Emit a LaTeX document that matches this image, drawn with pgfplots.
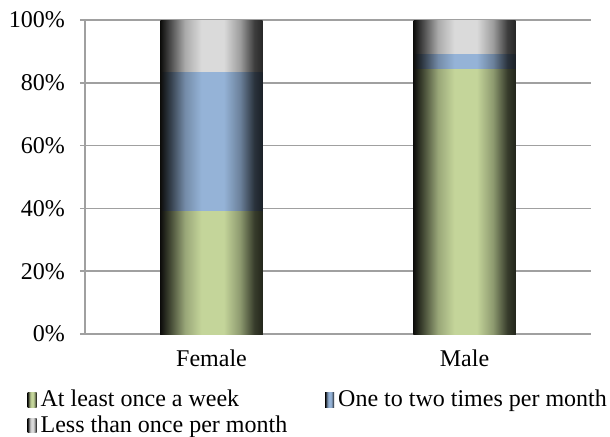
\documentclass[border=0pt]{standalone}
\usepackage{pgfplots}
\pgfplotsset{compat=1.18}
\usepackage{fontspec}
\setmainfont{Liberation Serif}

% bar colours
\definecolor{gMid}{RGB}{196,213,154}
\definecolor{bMid}{RGB}{149,179,215}
\definecolor{kMid}{RGB}{218,218,218}
\definecolor{edge}{RGB}{14,14,12}
\definecolor{axisgray}{RGB}{160,160,160}

\colorlet{g1}{gMid!30!black}\colorlet{g2}{gMid!78!black}\colorlet{g3}{gMid!72!black}\colorlet{g4}{gMid!28!black}\colorlet{g5}{gMid!18!black}
\colorlet{b1}{bMid!30!black}\colorlet{b2}{bMid!78!black}\colorlet{b3}{bMid!72!black}\colorlet{b4}{bMid!28!black}\colorlet{b5}{bMid!18!black}
\colorlet{k1}{kMid!30!black}\colorlet{k2}{kMid!78!black}\colorlet{k3}{kMid!72!black}\colorlet{k4}{kMid!28!black}\colorlet{k5}{kMid!18!black}

\pgfdeclarehorizontalshading{greenbar}{100bp}{color(0bp)=(edge); color(25bp)=(edge); color(29bp)=(g1); color(37bp)=(g2); color(45bp)=(gMid); color(56bp)=(gMid); color(64bp)=(g3); color(71bp)=(g4); color(75bp)=(g5); color(100bp)=(g5)}
\pgfdeclarehorizontalshading{bluebar}{100bp}{color(0bp)=(edge); color(25bp)=(edge); color(29bp)=(b1); color(37bp)=(b2); color(45bp)=(bMid); color(56bp)=(bMid); color(64bp)=(b3); color(71bp)=(b4); color(75bp)=(b5); color(100bp)=(b5)}
\pgfdeclarehorizontalshading{graybar}{100bp}{color(0bp)=(edge); color(25bp)=(edge); color(29bp)=(k1); color(37bp)=(k2); color(45bp)=(kMid); color(56bp)=(kMid); color(64bp)=(k3); color(71bp)=(k4); color(75bp)=(k5); color(100bp)=(k5)}

% cumulative shares (%): each bar drawn from 0, top segment first
% Female: weekly 39.0, monthly 44.2, less 16.8
% Male:   weekly 84.2, monthly 4.9,  less 10.9

\begin{document}
\begin{tikzpicture}
\begin{axis}[
    scale only axis,
    width=253pt, height=157pt,
    ybar, bar shift=0pt,
    bar width=51pt,
    xmin=0.5, xmax=2.5,
    ymin=0, ymax=100,
    xtick={1,2},
    xticklabels={Female,Male},
    major x tick style={draw=none},
    extra x ticks={0.5,1.5,2.5},
    extra x tick labels={},
    extra x tick style={grid=none},
    ytick={0,20,40,60,80,100},
    yticklabels={0\%,20\%,40\%,60\%,80\%,100\%},
    ymajorgrids=true,
    grid style={axisgray, line width=0.8pt},
    axis x line*=bottom,
    axis y line*=left,
    axis line style={axisgray, line width=0.8pt, -},
    tick align=outside,
    major tick length=2.5pt,
    tick style={axisgray, line width=0.8pt},
    ticklabel style={font=\fontsize{12}{14}\selectfont},
    yticklabel style={xshift=-4pt},
    xticklabel style={yshift=-2pt},
    legend columns=2,
    legend cell align=left,
    legend style={draw=none, fill=none,
        at={(axis description cs:-0.126,-0.152)}, anchor=north west,
        font=\fontsize{12}{14}\selectfont,
        row sep=-1pt,
        /tikz/every even column/.append style={column sep=17pt}},
    legend image code/.code={\path[#1, draw=none] (0pt,-3.6pt) rectangle (4.5pt,3.6pt);},
]
\addlegendimage{shade, shading=greenbar}
\addlegendentry{At least once a week}
\addlegendimage{shade, shading=bluebar}
\addlegendentry{One to two times per month}
\addlegendimage{shade, shading=graybar}
\addlegendentry{Less than once per month}

% Female
\addplot[shade, shading=graybar, draw=none, forget plot] coordinates {(1,100)};
\addplot[shade, shading=bluebar, draw=none, forget plot] coordinates {(1,83.2)};
\addplot[shade, shading=greenbar, draw=none, forget plot] coordinates {(1,39.0)};
% Male
\addplot[shade, shading=graybar, draw=none, forget plot] coordinates {(2,100)};
\addplot[shade, shading=bluebar, draw=none, forget plot] coordinates {(2,89.1)};
\addplot[shade, shading=greenbar, draw=none, forget plot] coordinates {(2,84.2)};
\end{axis}
\pgfresetboundingbox
\path (-42.5pt,-51pt) rectangle (262.5pt,167pt);
\end{tikzpicture}
\end{document}
